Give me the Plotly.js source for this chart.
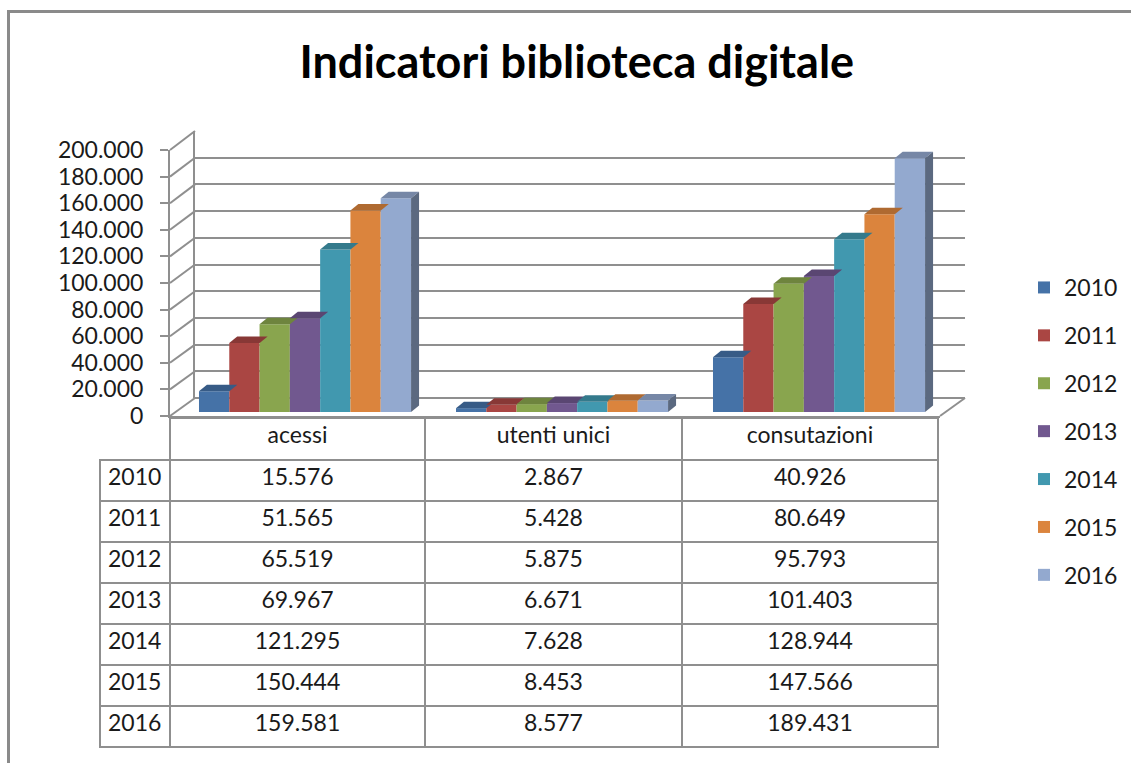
<!DOCTYPE html>
<html>
<head>
<meta charset="utf-8">
<script src="https://cdn.plot.ly/plotly-3.0.1.min.js"></script>
<style>
html,body{margin:0;padding:0;background:#fff;}
#chart{position:absolute;left:0;top:0;width:1131px;height:763px;}
#frame{position:absolute;left:7px;top:10px;width:1200px;height:900px;border-left:3px solid #8a8a8a;border-top:3px solid #8a8a8a;pointer-events:none;}
</style>
</head>
<body>
<div id="chart"></div>
<div id="frame"></div>
<script>
// ---- data ----
const categories = ['acessi', 'utenti unici', 'consutazioni'];
const years = ['2010', '2011', '2012', '2013', '2014', '2015', '2016'];
const v2010 = [15576, 2867, 40926];
const v2011 = [51565, 5428, 80649];
const v2012 = [65519, 5875, 95793];
const v2013 = [69967, 6671, 101403];
const v2014 = [121295, 7628, 128944];
const v2015 = [150444, 8453, 147566];
const v2016 = [159581, 8577, 189431];
const yTicks = [0, 20000, 40000, 60000, 80000, 100000, 120000, 140000, 160000, 180000, 200000];

const seriesValues = [v2010, v2011, v2012, v2013, v2014, v2015, v2016];
const colors = ['#4572A7', '#AA4643', '#89A54E', '#71588F', '#4198AF', '#DB843D', '#93A9CF'];

const W = 1131, H = 763;
const FONT = 'Lato, "Open Sans", sans-serif';
const gridColor = '#8f8f8f';

// geometry (pixels -> paper)
const px = x => x / W;
const py = y => (H - y) / H;
const frontX = [px(170), px(940)];
const frontY = [py(416), py(150)];
const backX = [px(195), px(965)];
const backY = [py(398), py(131)];
const barX = [px(176.5), px(947.5)];
const barY = [py(412), py(144)];
const yMax = 200000;

function fmt(n) {
  return String(n).replace(/\B(?=(\d{3})+(?!\d))/g, '.');
}
function shade(hex, f) {
  const r = parseInt(hex.slice(1, 3), 16), g = parseInt(hex.slice(3, 5), 16), b = parseInt(hex.slice(5, 7), 16);
  return 'rgb(' + Math.round(r * f) + ',' + Math.round(g * f) + ',' + Math.round(b * f) + ')';
}

const bargap = 0.175;
const nS = years.length;
const bw = (1 - bargap) / nS;

const traces = [];
// dummy traces to create the back-wall and front-axis subplots
traces.push({type: 'scatter', x: [], y: [], xaxis: 'x', yaxis: 'y', showlegend: false, hoverinfo: 'skip'});
traces.push({type: 'scatter', x: [], y: [], xaxis: 'x2', yaxis: 'y2', showlegend: false, hoverinfo: 'skip'});

years.forEach((yr, i) => {
  traces.push({
    type: 'bar',
    name: yr,
    x: categories,
    y: seriesValues[i],
    xaxis: 'x3',
    yaxis: 'y3',
    marker: {color: colors[i], line: {width: 0}},
    legendgroup: yr,
    hoverinfo: 'y+name'
  });
});

// table
traces.push({
  type: 'table',
  domain: {x: [px(100), px(938)], y: [py(748), py(418)]},
  columnwidth: [70, 255, 257, 256],
  header: {
    values: [''].concat(categories),
    height: 42,
    align: ['left', 'center', 'center', 'center'],
    font: {family: FONT, size: 23, color: '#1a1a1a'},
    fill: {color: ['rgba(0,0,0,0)', 'white', 'white', 'white']},
    line: {color: ['rgba(0,0,0,0)', gridColor, gridColor, gridColor], width: 2}
  },
  cells: {
    values: [years].concat(categories.map((c, k) => seriesValues.map(s => fmt(s[k])))),
    height: 41,
    align: ['left', 'center', 'center', 'center'],
    font: {family: FONT, size: 23, color: '#1a1a1a'},
    fill: {color: 'white'},
    line: {color: gridColor, width: 2}
  }
});

// 3D faces for bars and perspective lines
const shapes = [];
const depthPx = 8;
const depthVal = 6.5 / ((412 - 144) / yMax);
categories.forEach((c, k) => {
  seriesValues.forEach((s, i) => {
    const xc = k + (i - (nS - 1) / 2) * bw;
    const v = s[k];
    const hw = 15.2;
    // top face
    shapes.push({
      type: 'path', xref: 'x3', yref: 'y3', xsizemode: 'pixel', xanchor: xc,
      path: 'M' + (-hw) + ',' + v + ' L' + hw + ',' + v + ' L' + (hw + depthPx) + ',' + (v + depthVal) + ' L' + (-hw + depthPx) + ',' + (v + depthVal) + ' Z',
      fillcolor: shade(colors[i], 0.8), line: {width: 0}, layer: 'above'
    });
    // side face (visible for the last bar of each group)
    if (i === nS - 1) {
      shapes.push({
        type: 'path', xref: 'x3', yref: 'y3', xsizemode: 'pixel', xanchor: xc,
        path: 'M' + hw + ',0 L' + (hw + depthPx) + ',' + depthVal + ' L' + (hw + depthPx) + ',' + (v + depthVal) + ' L' + hw + ',' + v + ' Z',
        fillcolor: shade(colors[i], 0.62), line: {width: 0}, layer: 'above'
      });
    }
  });
});
// perspective connectors from front ticks to back wall
yTicks.forEach(t => {
  const fy = frontY[0] + (frontY[1] - frontY[0]) * t / yMax;
  const by = backY[0] + (backY[1] - backY[0]) * t / yMax;
  shapes.push({type: 'line', xref: 'paper', yref: 'paper', x0: frontX[0], y0: fy, x1: backX[0], y1: by,
    line: {color: gridColor, width: 2}, layer: 'below'});
});
// floor right edge
shapes.push({type: 'line', xref: 'paper', yref: 'paper', x0: frontX[1], y0: frontY[0], x1: backX[1], y1: backY[0],
  line: {color: gridColor, width: 2}, layer: 'below'});

const hiddenAxis = {showgrid: false, zeroline: false, showline: false, showticklabels: false, ticks: '', fixedrange: true};

const layout = {
  width: W, height: H,
  margin: {l: 0, r: 0, t: 0, b: 0},
  paper_bgcolor: 'white',
  plot_bgcolor: 'rgba(0,0,0,0)',
  font: {family: FONT, size: 23, color: '#1a1a1a'},
  title: {text: '<b>Indicatori biblioteca digitale</b>', x: 0.51, xanchor: 'center', y: py(62), yanchor: 'middle',
    font: {family: FONT, size: 45, color: '#000'}},
  barmode: 'group',
  bargap: bargap,
  bargroupgap: 0,
  showlegend: true,
  legend: {x: px(1024), xanchor: 'left', y: py(266), yanchor: 'top', font: {family: FONT, size: 23, color: '#1a1a1a'},
    tracegroupgap: 15, bgcolor: 'rgba(0,0,0,0)'},
  // back wall
  xaxis: Object.assign({domain: backX, range: [0, 1]}, hiddenAxis),
  yaxis: {domain: backY, range: [0, yMax], tickvals: yTicks, showgrid: true, gridcolor: gridColor, gridwidth: 2,
    zeroline: true, zerolinecolor: gridColor, zerolinewidth: 2, showline: true, linecolor: gridColor, linewidth: 2,
    showticklabels: false, ticks: '', fixedrange: true},
  // front axis (floor edge + tick labels)
  xaxis2: {domain: frontX, anchor: 'y2', range: [0, 1], showgrid: false, zeroline: false, showline: true,
    linecolor: gridColor, linewidth: 2, showticklabels: false, ticks: '', fixedrange: true},
  yaxis2: {domain: frontY, anchor: 'x2', range: [0, yMax], tickvals: yTicks, ticktext: yTicks.map(fmt),
    showgrid: false, zeroline: false, showline: true, linecolor: gridColor, linewidth: 2,
    ticks: 'outside', ticklen: 8, tickcolor: gridColor, tickwidth: 2, ticklabelstandoff: 12,
    tickfont: {family: FONT, size: 23, color: '#1a1a1a'}, fixedrange: true},
  // bars
  xaxis3: Object.assign({domain: barX, anchor: 'y3', type: 'category'}, hiddenAxis),
  yaxis3: Object.assign({domain: barY, anchor: 'x3', range: [0, yMax]}, hiddenAxis),
  shapes: shapes
};

Plotly.newPlot('chart', traces, layout, {displayModeBar: false, staticPlot: true});
</script>
</body>
</html>
